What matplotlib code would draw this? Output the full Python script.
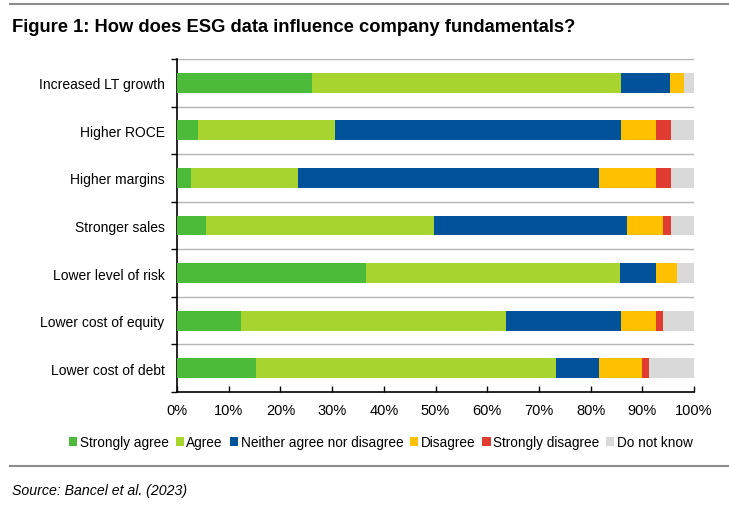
"""
plot.py
Stacked horizontal bar chart: how ESG data influences company fundamentals.
"""

import matplotlib.pyplot as plt
from matplotlib.lines import Line2D
from matplotlib.ticker import FixedLocator, PercentFormatter

plt.rcParams['font.family'] = ['Liberation Sans', 'DejaVu Sans']

# ---------------- DATA ----------------

categories = [
    "Increased LT growth",
    "Higher ROCE",
    "Higher margins",
    "Stronger sales",
    "Lower level of risk",
    "Lower cost of equity",
    "Lower cost of debt",
]

responses = [
    "Strongly agree",
    "Agree",
    "Neither agree nor disagree",
    "Disagree",
    "Strongly disagree",
    "Do not know",
]

strongly_agree = [26.2, 4.1, 2.8, 5.7, 36.5, 12.4, 15.3]
agree = [59.6, 26.4, 20.7, 44.1, 49.2, 51.2, 58.0]
neither = [9.6, 55.3, 58.2, 37.3, 6.9, 22.2, 8.4]
disagree = [2.7, 6.9, 11.0, 7.0, 4.2, 6.9, 8.3]
strongly_disagree = [0.0, 2.8, 2.8, 1.4, 0.0, 1.3, 1.3]
do_not_know = [1.9, 4.5, 4.5, 4.5, 3.2, 6.0, 8.7]

colors = ["#4cbb3a", "#a8d42f", "#00529b", "#ffc000", "#e03c31", "#d9d9d9"]

# ---------------- GRAPH ----------------

fig = plt.figure(figsize=(7.29, 5.10), dpi=100)
ax = fig.add_axes([177 / 729, 1 - 393 / 510, 517 / 729, 333 / 510])

series = [strongly_agree, agree, neither, disagree, strongly_disagree, do_not_know]
ypos = list(range(len(categories)))
left = [0.0] * len(categories)
for name, vals, col in zip(responses, series, colors):
    ax.barh(ypos, vals, left=left, height=0.42, color=col, label=name, zorder=3)
    left = [a + b for a, b in zip(left, vals)]

ax.set_ylim(len(categories) - 0.5, -0.5)
ax.set_xlim(0, 100)
ax.set_yticks(ypos)
ax.set_yticklabels(categories, fontsize=10)
ax.tick_params(axis="y", which="major", length=0, pad=9)
ax.yaxis.set_minor_locator(FixedLocator([i + 0.5 for i in range(-1, len(categories))]))
ax.tick_params(axis="y", which="minor", length=4, direction="out", width=1)

ax.set_xticks(range(0, 101, 10))
ax.xaxis.set_major_formatter(PercentFormatter(decimals=0))
ax.tick_params(axis="x", length=4, direction="in", width=1, labelsize=10.5, pad=8)

for b in [i + 0.5 for i in range(-1, len(categories) - 1)]:
    ax.axhline(b, color="#b4b4b4", linewidth=1, zorder=1)

for s in ["top", "right"]:
    ax.spines[s].set_visible(False)
ax.spines["left"].set_linewidth(1.2)
ax.spines["bottom"].set_linewidth(1.2)

fig.legend(loc="center", bbox_to_anchor=(381 / 729, 1 - 443 / 510), ncol=6,
           frameon=False, fontsize=9.8, handlelength=0.6, handleheight=0.6,
           handletextpad=0.2, columnspacing=0.5)

fig.text(12 / 729, 1 - 27 / 510, "Figure 1: How does ESG data influence company fundamentals?",
         fontsize=13.2, fontweight="bold", va="center", ha="left")
fig.text(12 / 729, 1 - 491 / 510, "Source: Bancel et al. (2023)",
         fontsize=10.2, style="italic", va="center", ha="left")

fig.add_artist(Line2D([10 / 729, 1], [1 - 5 / 510, 1 - 5 / 510], color="#8c8c8c", linewidth=1.5))
fig.add_artist(Line2D([10 / 729, 1], [1 - 467 / 510, 1 - 467 / 510], color="#8c8c8c", linewidth=1.5))

fig.savefig("out.png", dpi=100)
